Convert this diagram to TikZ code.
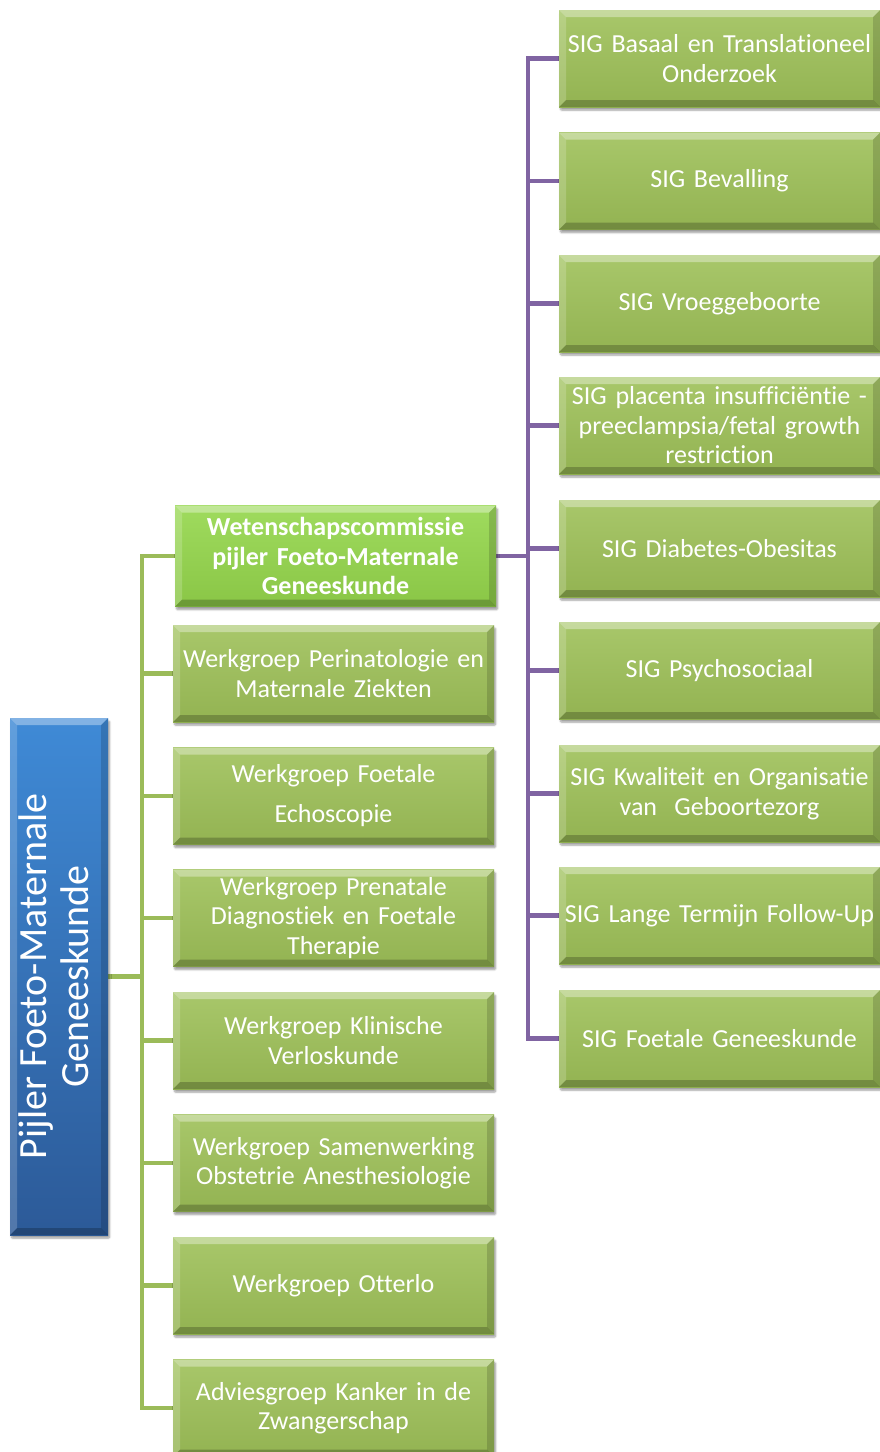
\documentclass[tikz,border=0pt]{standalone}
\usepackage{fontspec}
\setmainfont[Ligatures={NoCommon}]{Carlito}
\usetikzlibrary{calc,shadows.blur,backgrounds}
\definecolor{sigA}{HTML}{A8C76A}
\definecolor{sigB}{HTML}{93B352}
\definecolor{wetA}{HTML}{9FDB5E}
\definecolor{wetB}{HTML}{8AC646}
\definecolor{bluA}{HTML}{3F8AD6}
\definecolor{bluB}{HTML}{2C5A98}
\definecolor{grnline}{HTML}{9BBB59}
\definecolor{purline}{HTML}{8064A2}
\tikzset{
  x=1pt, y=-1pt,
  bevel/.style={path picture={
    \fill[white,opacity=0.35] (path picture bounding box.north west) -- (path picture bounding box.north east)
      -- ($(path picture bounding box.north east)+(-#1,-#1)$) -- ($(path picture bounding box.north west)+(#1,-#1)$) -- cycle;
    \fill[white,opacity=0.18] (path picture bounding box.north west) -- ($(path picture bounding box.north west)+(#1,-#1)$)
      -- ($(path picture bounding box.south west)+(#1,#1)$) -- (path picture bounding box.south west) -- cycle;
    \fill[black,opacity=0.15] (path picture bounding box.north east) -- (path picture bounding box.south east)
      -- ($(path picture bounding box.south east)+(-#1,#1)$) -- ($(path picture bounding box.north east)+(-#1,-#1)$) -- cycle;
    \fill[black,opacity=0.22] (path picture bounding box.south west) -- (path picture bounding box.south east)
      -- ($(path picture bounding box.south east)+(-#1,#1)$) -- ($(path picture bounding box.south west)+(#1,#1)$) -- cycle;
  }},
  boxbase/.style={rectangle, inner sep=0pt, text=white, align=center,
    blur shadow={shadow xshift=1.5pt, shadow yshift=-3pt, shadow blur steps=6, shadow blur extra rounding=1pt, shadow opacity=40},
    bevel=7pt, font=\fontsize{26}{29.5}\selectfont},
  sigbox/.style={boxbase, minimum width=321pt, minimum height=97pt, text width=318pt,
    top color=sigA, bottom color=sigB},
  wetbox/.style={boxbase, minimum width=321pt, minimum height=101pt, text width=318pt,
    top color=wetA, bottom color=wetB, font=\fontsize{26}{29.5}\selectfont\bfseries},
  bluebox/.style={boxbase, minimum width=98pt, minimum height=517pt,
    top color=bluA, bottom color=bluB, font=\fontsize{40}{42}\selectfont},
  grnconn/.style={draw=grnline, line width=4.5pt},
  purconn/.style={draw=purline, line width=4.5pt},
}
\begin{document}
\begin{tikzpicture}
\useasboundingbox (0,0) rectangle (879,1452);
% right column (SIG)
\node[sigbox] (s1) at (719.5,58.5) {SIG Basaal en Translationeel\\Onderzoek};
\node[sigbox] (s2) at (719.5,181) {SIG Bevalling};
\node[sigbox] (s3) at (719.5,303.5) {SIG Vroeggeboorte};
\node[sigbox] (s4) at (719.5,425.5) {SIG placenta insufficiëntie -\\preeclampsia/fetal growth\\restriction};
\node[sigbox] (s5) at (719.5,548.5) {SIG Diabetes-Obesitas};
\node[sigbox] (s6) at (719.5,670.5) {SIG Psychosociaal};
\node[sigbox] (s7) at (719.5,793.5) {SIG Kwaliteit en Organisatie\\van~ Geboortezorg};
\node[sigbox] (s8) at (719.5,915.5) {SIG Lange Termijn Follow-Up};
\node[sigbox] (s9) at (719.5,1038.5) {SIG Foetale Geneeskunde};
% middle column
\node[wetbox] (w0) at (335.5,556) {Wetenschapscommissie\\pijler Foeto-Maternale\\Geneeskunde};
\node[sigbox] (w1) at (333.5,673.5) {Werkgroep Perinatologie en\\Maternale Ziekten};
\node[sigbox] (w2) at (333.5,796) {Werkgroep Foetale\\[10.5pt]Echoscopie};
\node[sigbox] (w3) at (333.5,918) {Werkgroep Prenatale\\Diagnostiek en Foetale\\Therapie};
\node[sigbox] (w4) at (333.5,1040.5) {Werkgroep Klinische\\Verloskunde};
\node[sigbox] (w5) at (333.5,1163) {Werkgroep Samenwerking\\Obstetrie Anesthesiologie};
\node[sigbox] (w6) at (333.5,1285.5) {Werkgroep Otterlo};
\node[sigbox] (w7) at (333.5,1408) {Adviesgroep Kanker in de\\Zwangerschap};
% left
\node[bluebox] (p) at (59,976.5) {\rotatebox{90}{\begin{tabular}{@{}c@{}}Pijler Foeto-Maternale\\Geneeskunde\end{tabular}}};
% connectors
\begin{scope}[on background layer]
\coordinate (pbus) at ([xshift=32pt]w0.east);
\draw[purconn] (w0.east) -- (pbus);
\foreach \s in {s1,s2,s3,s4,s5,s6,s7,s8,s9} \draw[purconn] (pbus) |- (\s.west);
\coordinate (gbus) at ([xshift=34pt]p.east);
\draw[grnconn] (p.east) -- (gbus);
\foreach \s in {w0,w1,w2,w3,w4,w5,w6,w7} \draw[grnconn] (gbus) |- (\s.west);
\end{scope}
\end{tikzpicture}
\end{document}
